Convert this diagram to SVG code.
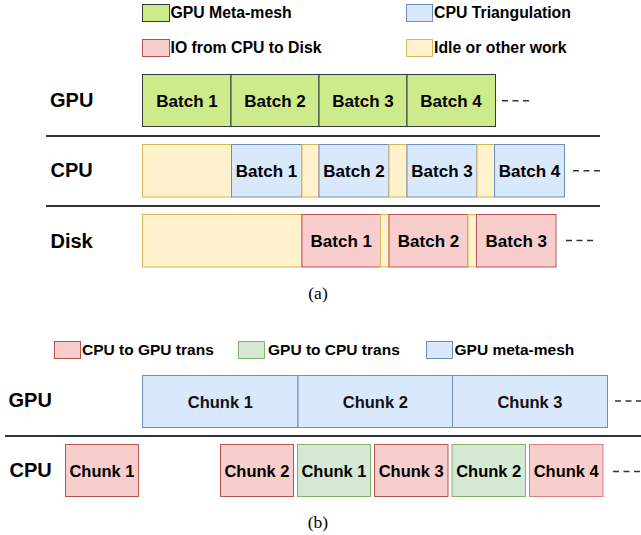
<svg xmlns="http://www.w3.org/2000/svg" width="641" height="535" viewBox="0 0 641 535">
<style>
.bg{fill:#ffffff}
.g{fill:#cdeb8b;stroke:#36393d;stroke-width:1}
.b{fill:#dae8fc;stroke:#6c8ebf;stroke-width:1}
.r{fill:#f8cecc;stroke:#b85450;stroke-width:1}
.r2{fill:#f8cecc;stroke:#d98080;stroke-width:1}
.y{fill:#fff2cc;stroke:#d6b656;stroke-width:1}
.gg{fill:#d5e8d4;stroke:#82b366;stroke-width:1}
text{font-family:"Liberation Sans",Arial,sans-serif;fill:#000}
.lg{font-size:15.8px;font-weight:bold}
.lg2{font-size:15.5px;font-weight:bold}
.row{font-size:20px;font-weight:bold}
.bt{font-size:17px;font-weight:bold;text-anchor:middle}
.ck{font-size:16.5px;font-weight:bold;text-anchor:middle;fill:#111}
.ckb{font-size:16.5px;font-weight:bold;text-anchor:middle}
.cap{font-family:"Liberation Serif","Times New Roman",serif;font-size:17.5px;text-anchor:middle}
.sep{stroke:#333;stroke-width:2.2}
.dash{stroke:#333;stroke-width:1.5;stroke-dasharray:6 4.5}
</style>
<rect class="bg" x="0" y="0" width="641" height="535"/>

<g id="legend-a">
<rect class="g" x="142.5" y="4.5" width="27" height="17"/>
<text class="lg" x="170.5" y="18">GPU Meta-mesh</text>
<rect class="b" x="406.5" y="4.5" width="26" height="17"/>
<text class="lg" x="434" y="18">CPU Triangulation</text>
<rect class="r" x="142.5" y="39.5" width="27" height="17"/>
<text class="lg" x="170.5" y="53.3">IO from CPU to Disk</text>
<rect class="y" x="406.5" y="39.5" width="26" height="17"/>
<text class="lg" x="434" y="53.3">Idle or other work</text>
</g>

<g id="connectors">
<line class="sep" x1="46" y1="136" x2="600" y2="136"/>
<line class="sep" x1="46" y1="206" x2="600" y2="206"/>
<line class="dash" x1="502" y1="100.7" x2="530" y2="100.7"/>
<line class="dash" x1="573" y1="170.7" x2="601" y2="170.7"/>
<line class="dash" x1="566" y1="240.5" x2="594" y2="240.5"/>
<line class="sep" x1="5" y1="436" x2="641" y2="436"/>
<line class="dash" x1="615" y1="401" x2="643" y2="401"/>
<line class="dash" x1="613" y1="471.5" x2="641" y2="471.5"/>
</g>

<g id="row-gpu-a">
<text class="row" x="50" y="107">GPU</text>
<rect class="g" x="142.5" y="74.5" width="88.5" height="52"/>
<rect class="g" x="231" y="74.5" width="88" height="52"/>
<rect class="g" x="319" y="74.5" width="88" height="52"/>
<rect class="g" x="407" y="74.5" width="88.5" height="52"/>
<text class="bt" x="187" y="106.7">Batch 1</text>
<text class="bt" x="275" y="106.7">Batch 2</text>
<text class="bt" x="363" y="106.7">Batch 3</text>
<text class="bt" x="451" y="106.7">Batch 4</text>
</g>

<g id="row-cpu-a">
<text class="row" x="50.5" y="177.3">CPU</text>
<rect class="y" x="142.5" y="144.5" width="89" height="52.5"/>
<rect class="b" x="231.5" y="144.5" width="70.5" height="52.5"/>
<rect class="y" x="302" y="144.5" width="17" height="52.5"/>
<rect class="b" x="319" y="144.5" width="70" height="52.5"/>
<rect class="y" x="389" y="144.5" width="18" height="52.5"/>
<rect class="b" x="407" y="144.5" width="70" height="52.5"/>
<rect class="y" x="477" y="144.5" width="17.5" height="52.5"/>
<rect class="b" x="494.5" y="144.5" width="70" height="52.5"/>
<text class="bt" x="266.5" y="177">Batch 1</text>
<text class="bt" x="354" y="177">Batch 2</text>
<text class="bt" x="442" y="177">Batch 3</text>
<text class="bt" x="529.5" y="177">Batch 4</text>
</g>

<g id="row-disk-a">
<text class="row" x="50.5" y="248.3">Disk</text>
<rect class="y" x="142.5" y="214.5" width="159.5" height="52.5"/>
<rect class="r" x="302" y="214.5" width="78.5" height="52.5"/>
<rect class="y" x="380.5" y="214.5" width="8.5" height="52.5"/>
<rect class="r" x="389" y="214.5" width="79" height="52.5"/>
<rect class="y" x="468" y="214.5" width="8.5" height="52.5"/>
<rect class="r" x="476.5" y="214.5" width="79.5" height="52.5"/>
<text class="bt" x="341.3" y="247">Batch 1</text>
<text class="bt" x="428.5" y="247">Batch 2</text>
<text class="bt" x="516.3" y="247">Batch 3</text>
</g>

<text class="cap" x="318" y="299">(a)</text>

<g id="legend-b">
<rect class="r" x="54.5" y="341.5" width="26" height="17"/>
<text class="lg2" x="82" y="354.5">CPU to GPU trans</text>
<rect class="gg" x="238.5" y="341.5" width="26" height="17"/>
<text class="lg2" x="268" y="354.5">GPU to CPU trans</text>
<rect class="b" x="426.5" y="341.5" width="26" height="17"/>
<text class="lg2" x="454.5" y="354.5">GPU meta-mesh</text>
</g>

<g id="row-gpu-b">
<text class="row" x="8.5" y="407.3">GPU</text>
<rect class="b" x="142.5" y="375.5" width="155.5" height="52"/>
<rect class="b" x="298" y="375.5" width="154.5" height="52"/>
<rect class="b" x="452.5" y="375.5" width="155" height="52"/>
<text class="ck" x="220.3" y="407.5">Chunk 1</text>
<text class="ck" x="375.3" y="407.5">Chunk 2</text>
<text class="ck" x="530" y="407.5">Chunk 3</text>
</g>

<g id="row-cpu-b">
<text class="row" x="9.5" y="477">CPU</text>
<rect class="r" x="65.5" y="444.5" width="73" height="52"/>
<rect class="r" x="220.5" y="444.5" width="73" height="52"/>
<rect class="gg" x="297.5" y="444.5" width="73" height="52"/>
<rect class="r" x="374.5" y="444.5" width="73.5" height="52"/>
<rect class="gg" x="452" y="444.5" width="73.5" height="52"/>
<rect class="r2" x="529.5" y="444.5" width="73.5" height="52"/>
<text class="ckb" x="102" y="477">Chunk 1</text>
<text class="ckb" x="257" y="477">Chunk 2</text>
<text class="ckb" x="334" y="477">Chunk 1</text>
<text class="ckb" x="411.2" y="477">Chunk 3</text>
<text class="ckb" x="488.7" y="477">Chunk 2</text>
<text class="ckb" x="566.2" y="477">Chunk 4</text>
</g>

<text class="cap" x="318" y="528">(b)</text>
</svg>
